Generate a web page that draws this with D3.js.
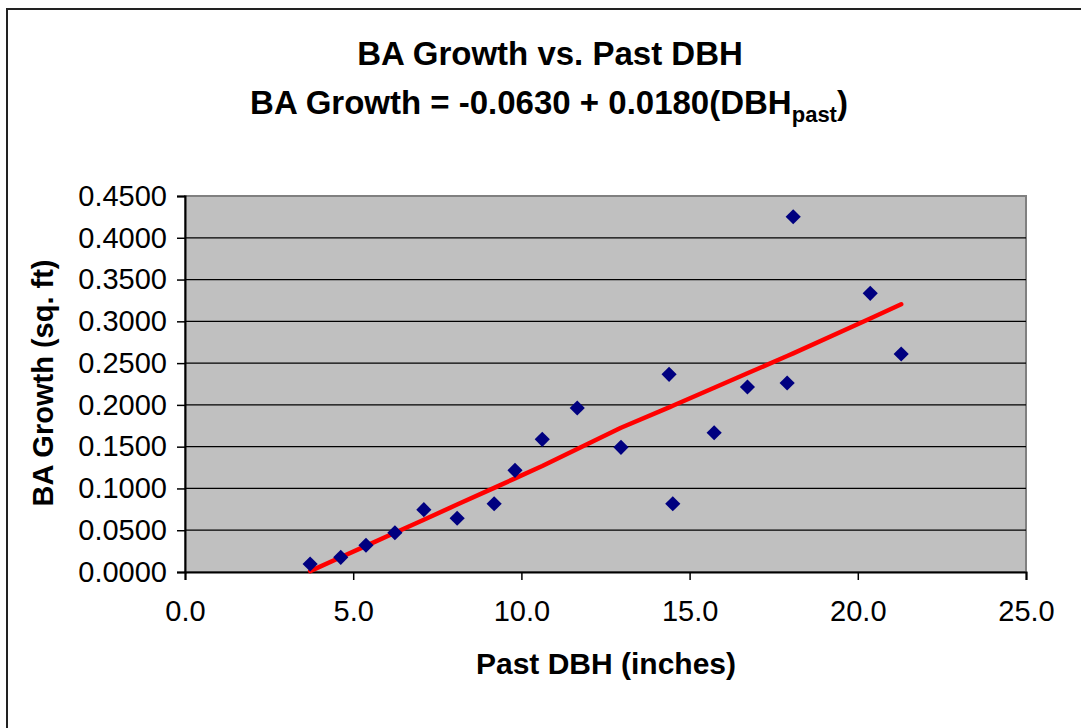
<!DOCTYPE html>
<html>
<head>
<meta charset="utf-8">
<script src="https://cdn.jsdelivr.net/npm/d3@7"></script>
<style>
body { margin: 0; background: #fff; }
text { font-family: "Liberation Sans", Arial, sans-serif; }
</style>
</head>
<body>
<svg id="svg" width="1081" height="728"></svg>
<script>
// past DBH (inches) and observed BA growth (sq. ft)
var dbh = [3.72, 4.63, 5.38, 6.24, 7.10, 8.09, 9.19, 9.81, 10.62, 11.66,
	12.96, 14.39, 14.50, 15.73, 16.72, 17.90, 18.08, 20.37, 21.29]
var growth = [0.0096, 0.0176, 0.0320, 0.0470, 0.0746, 0.0643, 0.0817, 0.1217, 0.1588, 0.1963,
	0.1492, 0.2366, 0.0817, 0.1667, 0.2214, 0.2262, 0.4252, 0.3335, 0.2609]
// predicted values
var fitted = [0.0010, 0.0176, 0.0313, 0.0469, 0.0626, 0.0807, 0.1007, 0.1120, 0.1268, 0.1472,
	0.1727, 0.1970, 0.1990, 0.2205, 0.2378, 0.2585, 0.2617, 0.3034, 0.3204]
var xTicks = [0, 5, 10, 15, 20, 25]
var yTicks = [0, 0.05, 0.1, 0.15, 0.2, 0.25, 0.3, 0.35, 0.4, 0.45]

var svg = d3.select("#svg")
var L = 185, T = 196, R = 1026, B = 572

var x = d3.scaleLinear().domain([0, 25]).range([L, R])
var y = d3.scaleLinear().domain([0, 0.45]).range([B, T])

// outer chart border
svg.append("rect")
	.attr("x", 7).attr("y", 9)
	.attr("width", 1090).attr("height", 740)
	.style("fill", "none").style("stroke", "#222").style("stroke-width", 2)

// plot area
svg.append("rect")
	.attr("x", L).attr("y", T).attr("width", R - L).attr("height", B - T)
	.style("fill", "#c0c0c0").style("stroke", "#808080").style("stroke-width", 2)

// gridlines
svg.selectAll(".grid").data(yTicks.slice(1, -1)).enter().append("line")
	.attr("x1", L).attr("x2", R)
	.attr("y1", function (d) { return y(d) }).attr("y2", function (d) { return y(d) })
	.style("stroke", "#000").style("stroke-width", 1.2)

// axes
var yAxis = svg.append("g").attr("transform", "translate(" + L + ",0)")
	.call(d3.axisLeft(y).tickValues(yTicks).tickFormat(d3.format(".4f")).tickSize(8).tickPadding(10))
var xAxis = svg.append("g").attr("transform", "translate(0," + B + ")")
	.call(d3.axisBottom(x).tickValues(xTicks).tickFormat(d3.format(".1f")).tickSize(8).tickPadding(20))
;[yAxis, xAxis].forEach(function (a) {
	a.select(".domain").style("stroke", "#000").style("stroke-width", 2)
	a.selectAll(".tick line").style("stroke", "#000").style("stroke-width", 1.5)
	a.selectAll(".tick text").style("font-size", "29px").style("fill", "#000")
		.style("font-family", "Liberation Sans, Arial, sans-serif")
})

// fitted line
var pts = dbh.map(function (d, i) { return [d, fitted[i]] })
svg.append("path")
	.attr("d", d3.line().x(function (d) { return x(d[0]) }).y(function (d) { return y(d[1]) })(pts))
	.style("fill", "none").style("stroke", "#ff0000").style("stroke-width", 4.5)
	.style("stroke-linejoin", "round").style("stroke-linecap", "round")

// observed points
svg.selectAll(".pt").data(dbh).enter().append("path")
	.attr("d", d3.symbol(d3.symbolSquare, 115)())
	.attr("transform", function (d, i) {
		return "translate(" + x(d) + "," + y(growth[i]) + ") rotate(45)"
	})
	.style("fill", "#000080")

// titles
svg.append("text").attr("x", 550).attr("y", 65).attr("text-anchor", "middle")
	.style("font-size", "33px").style("font-weight", "bold")
	.text("BA Growth vs. Past DBH")
var t2 = svg.append("text").attr("x", 549).attr("y", 114).attr("text-anchor", "middle")
	.style("font-size", "33px").style("font-weight", "bold")
t2.append("tspan").text("BA Growth = -0.0630 + 0.0180(DBH")
t2.append("tspan").attr("dy", 8).style("font-size", "22px").text("past")
t2.append("tspan").attr("dy", -8).text(")")

svg.append("text").attr("x", 606).attr("y", 674).attr("text-anchor", "middle")
	.style("font-size", "30px").style("font-weight", "bold")
	.text("Past DBH (inches)")
svg.append("text").attr("transform", "translate(53,383) rotate(-90)").attr("text-anchor", "middle")
	.style("font-size", "29px").style("font-weight", "bold")
	.text("BA Growth (sq. ft)")
</script>
</body>
</html>
